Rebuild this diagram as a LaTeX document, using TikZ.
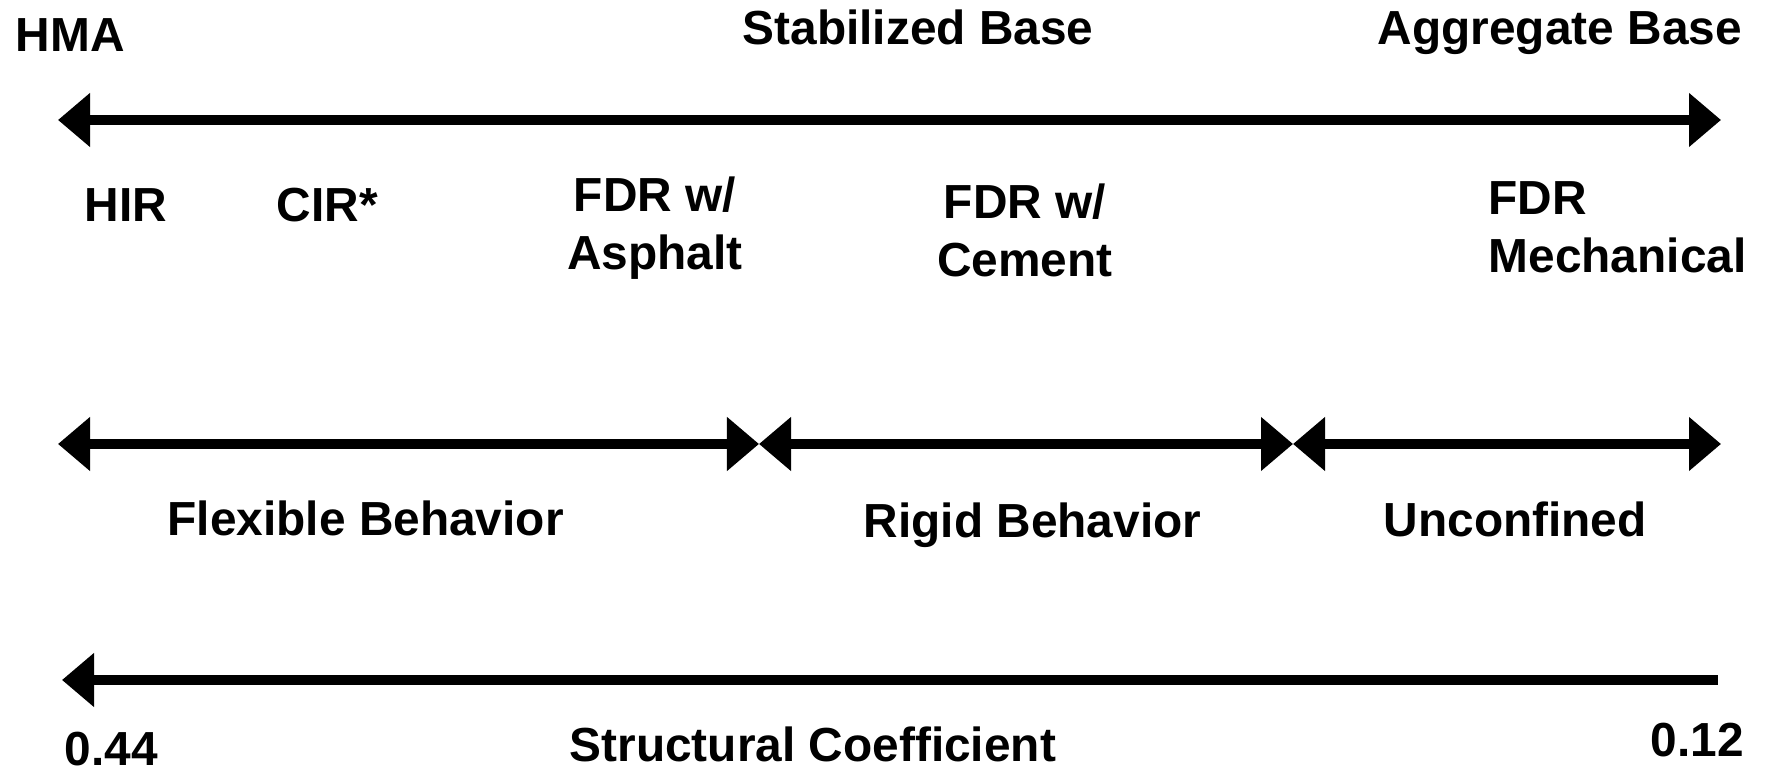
\documentclass[tikz,border=0pt]{standalone}
\usepackage{fontspec}
\setmainfont{Liberation Sans}
\usepackage{tikz}
\usetikzlibrary{positioning,arrows.meta}
\tikzset{lbl/.style={inner sep=0, anchor=base west, font=\fontsize{13.6}{16.6}\selectfont\bfseries}}
\tikzset{lbl2/.style={lbl, anchor=base, align=#1}, lbl2/.default=center}
\tikzset{head/.tip={Triangle[length=3.2mm, width=5.2mm]}}
\tikzset{arr/.style={draw, line width=1mm, line join=miter}}

\begin{document}
\begin{tikzpicture}[x=0.01cm, y=-0.01cm]
	\useasboundingbox (0,0) rectangle (1767,771);

	% top scale
	\node[lbl] (hma) at (15,52) {HMA};
	\node[lbl] (stab) at (742,45) {Stabilized Base};
	\node[lbl] (agg) at (1377,45) {Aggregate Base};
	\coordinate (t0) at (58,120);
	\coordinate (t1) at (1721,120);
	\draw[arr, arrows={head-head}] (t0) -- (t1);

	\node[lbl] (hir) at (84,222) {HIR};
	\node[lbl] (cir) at (276,222) {CIR*};
	% base of a two line node = last line
	\node[lbl2] (fdra) at (655,270) {FDR w/\\Asphalt};
	\node[lbl2] (fdrc) at (1025,277) {FDR w/\\Cement};
	\node[lbl2=left, anchor=base west] (fdrm) at (1488,273) {FDR\\Mechanical};

	% behaviour
	\coordinate (m0) at (58,444);
	\coordinate (m1) at (759,444);
	\coordinate (m2) at (1293,444);
	\coordinate (m3) at (1721,444);
	\draw[arr, arrows={head-head}] (m0) -- (m1);
	\draw[arr, arrows={head-head}] (m1) -- (m2);
	\draw[arr, arrows={head-head}] (m2) -- (m3);
	\node[lbl] (flex) at (167,536) {Flexible Behavior};
	\node[lbl] (rigid) at (863,538) {Rigid Behavior};
	\node[lbl] (unconf) at (1383,537) {Unconfined};

	% coefficient
	\coordinate (c0) at (62,680);
	\coordinate (c1) at (1718,680);
	\draw[arr, arrows={head-}] (c0) -- (c1);
	\node[lbl] (hi) at (64,766) {0.44};
	\node[lbl] (coef) at (569,762) {Structural Coefficient};
	\node[lbl] (lo) at (1650,757) {0.12};
\end{tikzpicture}
\end{document}
